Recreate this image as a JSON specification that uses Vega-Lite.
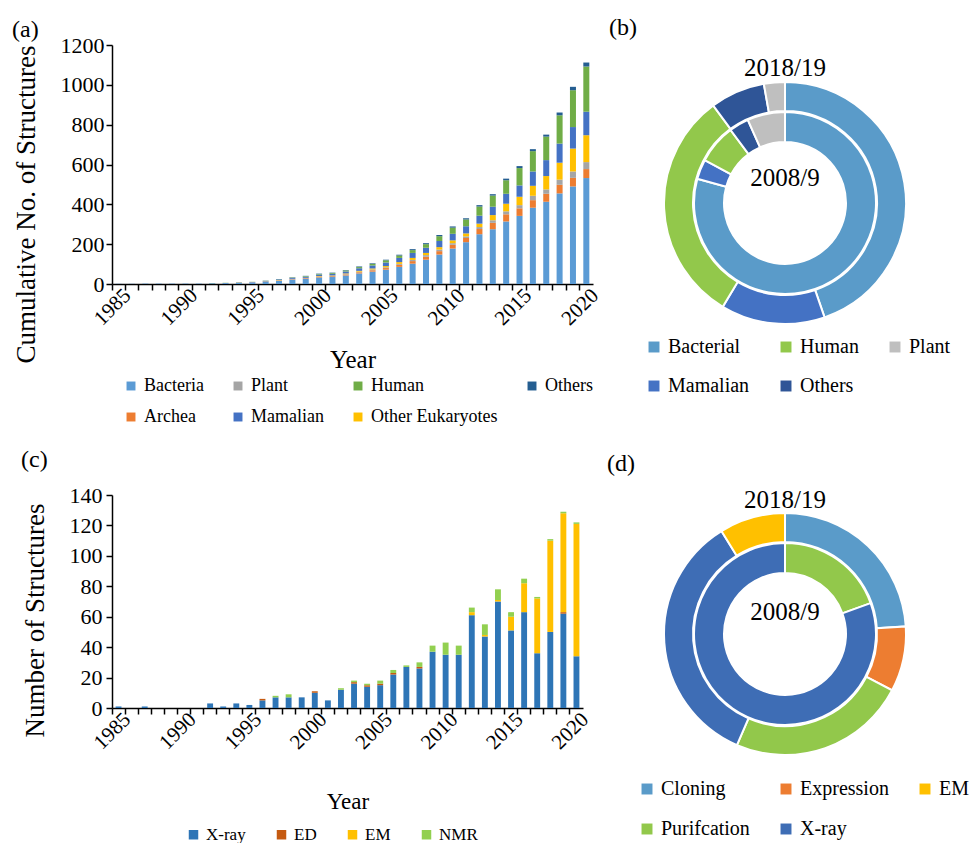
{
"$schema":"https://vega.github.io/schema/vega-lite/v6.json",
"background":"white",
"padding":{"left":12,"top":16,"right":0,"bottom":0},
"config":{"font":"Liberation Serif","view":{"stroke":null},
"axis":{"domainColor":"#000","tickColor":"#000","labelColor":"#000","titleColor":"#000","labelFont":"Liberation Serif","titleFont":"Liberation Serif","titleFontWeight":"normal","grid":false,"domainWidth":1.5,"tickWidth":1.5,"tickSize":6},
"legend":{"labelFont":"Liberation Serif","labelColor":"#000","symbolType":"square","symbolStrokeWidth":0,"symbolSize":100,"direction":"horizontal"},
"title":{"font":"Liberation Serif","fontWeight":"normal","color":"#000","fontSize":24,"anchor":"start","frame":"bounds"}},
"datasets":{
"cum":[
{"y":1985,"o":"Bacteria","i":1,"n":1},{"y":1986,"o":"Bacteria","i":1,"n":1},{"y":1987,"o":"Bacteria","i":1,"n":2},{"y":1988,"o":"Bacteria","i":1,"n":2},{"y":1989,"o":"Bacteria","i":1,"n":2},{"y":1990,"o":"Bacteria","i":1,"n":2},{"y":1991,"o":"Bacteria","i":1,"n":2},
{"y":1992,"o":"Bacteria","i":1,"n":3},{"y":1992,"o":"Mamalian","i":5,"n":1},{"y":1992,"o":"Human","i":6,"n":1},
{"y":1993,"o":"Bacteria","i":1,"n":4},{"y":1993,"o":"Mamalian","i":5,"n":1},{"y":1993,"o":"Human","i":6,"n":1},
{"y":1994,"o":"Bacteria","i":1,"n":6},{"y":1994,"o":"Archea","i":2,"n":1},{"y":1994,"o":"Mamalian","i":5,"n":1},{"y":1994,"o":"Human","i":6,"n":1},
{"y":1995,"o":"Bacteria","i":1,"n":7},{"y":1995,"o":"Archea","i":2,"n":1},{"y":1995,"o":"Mamalian","i":5,"n":2},{"y":1995,"o":"Human","i":6,"n":1},
{"y":1996,"o":"Bacteria","i":1,"n":11},{"y":1996,"o":"Archea","i":2,"n":1},{"y":1996,"o":"Other Eukaryotes","i":4,"n":1},{"y":1996,"o":"Mamalian","i":5,"n":2},{"y":1996,"o":"Human","i":6,"n":1},{"y":1996,"o":"Others","i":7,"n":1},
{"y":1997,"o":"Bacteria","i":1,"n":16},{"y":1997,"o":"Archea","i":2,"n":2},{"y":1997,"o":"Plant","i":3,"n":1},{"y":1997,"o":"Other Eukaryotes","i":4,"n":1},{"y":1997,"o":"Mamalian","i":5,"n":3},{"y":1997,"o":"Human","i":6,"n":1},{"y":1997,"o":"Others","i":7,"n":1},
{"y":1998,"o":"Bacteria","i":1,"n":22},{"y":1998,"o":"Archea","i":2,"n":2},{"y":1998,"o":"Plant","i":3,"n":1},{"y":1998,"o":"Other Eukaryotes","i":4,"n":1},{"y":1998,"o":"Mamalian","i":5,"n":5},{"y":1998,"o":"Human","i":6,"n":2},{"y":1998,"o":"Others","i":7,"n":1},
{"y":1999,"o":"Bacteria","i":1,"n":26},{"y":1999,"o":"Archea","i":2,"n":3},{"y":1999,"o":"Plant","i":3,"n":1},{"y":1999,"o":"Other Eukaryotes","i":4,"n":1},{"y":1999,"o":"Mamalian","i":5,"n":6},{"y":1999,"o":"Human","i":6,"n":3},{"y":1999,"o":"Others","i":7,"n":1},
{"y":2000,"o":"Bacteria","i":1,"n":33},{"y":2000,"o":"Archea","i":2,"n":4},{"y":2000,"o":"Plant","i":3,"n":1},{"y":2000,"o":"Other Eukaryotes","i":4,"n":2},{"y":2000,"o":"Mamalian","i":5,"n":7},{"y":2000,"o":"Human","i":6,"n":3},{"y":2000,"o":"Others","i":7,"n":2},
{"y":2001,"o":"Bacteria","i":1,"n":35},{"y":2001,"o":"Archea","i":2,"n":4},{"y":2001,"o":"Plant","i":3,"n":2},{"y":2001,"o":"Other Eukaryotes","i":4,"n":2},{"y":2001,"o":"Mamalian","i":5,"n":8},{"y":2001,"o":"Human","i":6,"n":4},{"y":2001,"o":"Others","i":7,"n":2},
{"y":2002,"o":"Bacteria","i":1,"n":43},{"y":2002,"o":"Archea","i":2,"n":5},{"y":2002,"o":"Plant","i":3,"n":2},{"y":2002,"o":"Other Eukaryotes","i":4,"n":3},{"y":2002,"o":"Mamalian","i":5,"n":10},{"y":2002,"o":"Human","i":6,"n":5},{"y":2002,"o":"Others","i":7,"n":2},
{"y":2003,"o":"Bacteria","i":1,"n":53},{"y":2003,"o":"Archea","i":2,"n":6},{"y":2003,"o":"Plant","i":3,"n":3},{"y":2003,"o":"Other Eukaryotes","i":4,"n":4},{"y":2003,"o":"Mamalian","i":5,"n":13},{"y":2003,"o":"Human","i":6,"n":6},{"y":2003,"o":"Others","i":7,"n":3},
{"y":2004,"o":"Bacteria","i":1,"n":62},{"y":2004,"o":"Archea","i":2,"n":7},{"y":2004,"o":"Plant","i":3,"n":4},{"y":2004,"o":"Other Eukaryotes","i":4,"n":5},{"y":2004,"o":"Mamalian","i":5,"n":15},{"y":2004,"o":"Human","i":6,"n":8},{"y":2004,"o":"Others","i":7,"n":3},
{"y":2005,"o":"Bacteria","i":1,"n":72},{"y":2005,"o":"Archea","i":2,"n":8},{"y":2005,"o":"Plant","i":3,"n":4},{"y":2005,"o":"Other Eukaryotes","i":4,"n":6},{"y":2005,"o":"Mamalian","i":5,"n":18},{"y":2005,"o":"Human","i":6,"n":11},{"y":2005,"o":"Others","i":7,"n":3},
{"y":2006,"o":"Bacteria","i":1,"n":86},{"y":2006,"o":"Archea","i":2,"n":10},{"y":2006,"o":"Plant","i":3,"n":5},{"y":2006,"o":"Other Eukaryotes","i":4,"n":9},{"y":2006,"o":"Mamalian","i":5,"n":21},{"y":2006,"o":"Human","i":6,"n":12},{"y":2006,"o":"Others","i":7,"n":4},
{"y":2007,"o":"Bacteria","i":1,"n":102},{"y":2007,"o":"Archea","i":2,"n":13},{"y":2007,"o":"Plant","i":3,"n":6},{"y":2007,"o":"Other Eukaryotes","i":4,"n":10},{"y":2007,"o":"Mamalian","i":5,"n":25},{"y":2007,"o":"Human","i":6,"n":14},{"y":2007,"o":"Others","i":7,"n":5},
{"y":2008,"o":"Bacteria","i":1,"n":122},{"y":2008,"o":"Archea","i":2,"n":15},{"y":2008,"o":"Plant","i":3,"n":8},{"y":2008,"o":"Other Eukaryotes","i":4,"n":11},{"y":2008,"o":"Mamalian","i":5,"n":26},{"y":2008,"o":"Human","i":6,"n":18},{"y":2008,"o":"Others","i":7,"n":5},
{"y":2009,"o":"Bacteria","i":1,"n":148},{"y":2009,"o":"Archea","i":2,"n":17},{"y":2009,"o":"Plant","i":3,"n":8},{"y":2009,"o":"Other Eukaryotes","i":4,"n":12},{"y":2009,"o":"Mamalian","i":5,"n":31},{"y":2009,"o":"Human","i":6,"n":24},{"y":2009,"o":"Others","i":7,"n":6},
{"y":2010,"o":"Bacteria","i":1,"n":178},{"y":2010,"o":"Archea","i":2,"n":19},{"y":2010,"o":"Plant","i":3,"n":8},{"y":2010,"o":"Other Eukaryotes","i":4,"n":14},{"y":2010,"o":"Mamalian","i":5,"n":33},{"y":2010,"o":"Human","i":6,"n":31},{"y":2010,"o":"Others","i":7,"n":6},
{"y":2011,"o":"Bacteria","i":1,"n":210},{"y":2011,"o":"Archea","i":2,"n":21},{"y":2011,"o":"Plant","i":3,"n":8},{"y":2011,"o":"Other Eukaryotes","i":4,"n":15},{"y":2011,"o":"Mamalian","i":5,"n":36},{"y":2011,"o":"Human","i":6,"n":34},{"y":2011,"o":"Others","i":7,"n":6},
{"y":2012,"o":"Bacteria","i":1,"n":250},{"y":2012,"o":"Archea","i":2,"n":26},{"y":2012,"o":"Plant","i":3,"n":10},{"y":2012,"o":"Other Eukaryotes","i":4,"n":17},{"y":2012,"o":"Mamalian","i":5,"n":40},{"y":2012,"o":"Human","i":6,"n":46},{"y":2012,"o":"Others","i":7,"n":7},
{"y":2013,"o":"Bacteria","i":1,"n":275},{"y":2013,"o":"Archea","i":2,"n":32},{"y":2013,"o":"Plant","i":3,"n":13},{"y":2013,"o":"Other Eukaryotes","i":4,"n":26},{"y":2013,"o":"Mamalian","i":5,"n":42},{"y":2013,"o":"Human","i":6,"n":56},{"y":2013,"o":"Others","i":7,"n":7},
{"y":2014,"o":"Bacteria","i":1,"n":314},{"y":2014,"o":"Archea","i":2,"n":36},{"y":2014,"o":"Plant","i":3,"n":15},{"y":2014,"o":"Other Eukaryotes","i":4,"n":38},{"y":2014,"o":"Mamalian","i":5,"n":50},{"y":2014,"o":"Human","i":6,"n":68},{"y":2014,"o":"Others","i":7,"n":8},
{"y":2015,"o":"Bacteria","i":1,"n":342},{"y":2015,"o":"Archea","i":2,"n":38},{"y":2015,"o":"Plant","i":3,"n":16},{"y":2015,"o":"Other Eukaryotes","i":4,"n":42},{"y":2015,"o":"Mamalian","i":5,"n":57},{"y":2015,"o":"Human","i":6,"n":87},{"y":2015,"o":"Others","i":7,"n":10},
{"y":2016,"o":"Bacteria","i":1,"n":383},{"y":2016,"o":"Archea","i":2,"n":38},{"y":2016,"o":"Plant","i":3,"n":22},{"y":2016,"o":"Other Eukaryotes","i":4,"n":50},{"y":2016,"o":"Mamalian","i":5,"n":72},{"y":2016,"o":"Human","i":6,"n":102},{"y":2016,"o":"Others","i":7,"n":10},
{"y":2017,"o":"Bacteria","i":1,"n":413},{"y":2017,"o":"Archea","i":2,"n":40},{"y":2017,"o":"Plant","i":3,"n":22},{"y":2017,"o":"Other Eukaryotes","i":4,"n":67},{"y":2017,"o":"Mamalian","i":5,"n":80},{"y":2017,"o":"Human","i":6,"n":118},{"y":2017,"o":"Others","i":7,"n":10},
{"y":2018,"o":"Bacteria","i":1,"n":455},{"y":2018,"o":"Archea","i":2,"n":43},{"y":2018,"o":"Plant","i":3,"n":26},{"y":2018,"o":"Other Eukaryotes","i":4,"n":85},{"y":2018,"o":"Mamalian","i":5,"n":96},{"y":2018,"o":"Human","i":6,"n":142},{"y":2018,"o":"Others","i":7,"n":14},
{"y":2019,"o":"Bacteria","i":1,"n":490},{"y":2019,"o":"Archea","i":2,"n":43},{"y":2019,"o":"Plant","i":3,"n":32},{"y":2019,"o":"Other Eukaryotes","i":4,"n":115},{"y":2019,"o":"Mamalian","i":5,"n":108},{"y":2019,"o":"Human","i":6,"n":185},{"y":2019,"o":"Others","i":7,"n":17},
{"y":2020,"o":"Bacteria","i":1,"n":532},{"y":2020,"o":"Archea","i":2,"n":45},{"y":2020,"o":"Plant","i":3,"n":35},{"y":2020,"o":"Other Eukaryotes","i":4,"n":135},{"y":2020,"o":"Mamalian","i":5,"n":118},{"y":2020,"o":"Human","i":6,"n":227},{"y":2020,"o":"Others","i":7,"n":20}
],
"yearly":[
{"y":1985,"m":"X-ray","i":1,"n":1},{"y":1987,"m":"X-ray","i":1,"n":1},{"y":1992,"m":"X-ray","i":1,"n":3},{"y":1993,"m":"X-ray","i":1,"n":1},{"y":1994,"m":"X-ray","i":1,"n":3},{"y":1995,"m":"X-ray","i":1,"n":2},
{"y":1996,"m":"X-ray","i":1,"n":5},{"y":1996,"m":"ED","i":2,"n":1},
{"y":1997,"m":"X-ray","i":1,"n":7},{"y":1997,"m":"NMR","i":4,"n":1},
{"y":1998,"m":"X-ray","i":1,"n":7},{"y":1998,"m":"NMR","i":4,"n":2},
{"y":1999,"m":"X-ray","i":1,"n":7},
{"y":2000,"m":"X-ray","i":1,"n":10},{"y":2000,"m":"ED","i":2,"n":1},
{"y":2001,"m":"X-ray","i":1,"n":5},
{"y":2002,"m":"X-ray","i":1,"n":12},{"y":2002,"m":"NMR","i":4,"n":1},
{"y":2003,"m":"X-ray","i":1,"n":16},{"y":2003,"m":"ED","i":2,"n":1},{"y":2003,"m":"NMR","i":4,"n":1},
{"y":2004,"m":"X-ray","i":1,"n":14},{"y":2004,"m":"ED","i":2,"n":1},{"y":2004,"m":"NMR","i":4,"n":1},
{"y":2005,"m":"X-ray","i":1,"n":15},{"y":2005,"m":"ED","i":2,"n":1},{"y":2005,"m":"NMR","i":4,"n":2},
{"y":2006,"m":"X-ray","i":1,"n":22},{"y":2006,"m":"ED","i":2,"n":1},{"y":2006,"m":"NMR","i":4,"n":2},
{"y":2007,"m":"X-ray","i":1,"n":27},{"y":2007,"m":"NMR","i":4,"n":1},
{"y":2008,"m":"X-ray","i":1,"n":26},{"y":2008,"m":"ED","i":2,"n":1},{"y":2008,"m":"NMR","i":4,"n":3},
{"y":2009,"m":"X-ray","i":1,"n":37},{"y":2009,"m":"NMR","i":4,"n":4},
{"y":2010,"m":"X-ray","i":1,"n":35},{"y":2010,"m":"NMR","i":4,"n":8},
{"y":2011,"m":"X-ray","i":1,"n":35},{"y":2011,"m":"NMR","i":4,"n":6},
{"y":2012,"m":"X-ray","i":1,"n":61},{"y":2012,"m":"EM","i":3,"n":2},{"y":2012,"m":"NMR","i":4,"n":3},
{"y":2013,"m":"X-ray","i":1,"n":47},{"y":2013,"m":"EM","i":3,"n":1},{"y":2013,"m":"NMR","i":4,"n":7},
{"y":2014,"m":"X-ray","i":1,"n":70},{"y":2014,"m":"EM","i":3,"n":1},{"y":2014,"m":"NMR","i":4,"n":7},
{"y":2015,"m":"X-ray","i":1,"n":51},{"y":2015,"m":"EM","i":3,"n":9},{"y":2015,"m":"NMR","i":4,"n":3},
{"y":2016,"m":"X-ray","i":1,"n":63},{"y":2016,"m":"EM","i":3,"n":19},{"y":2016,"m":"NMR","i":4,"n":3},
{"y":2017,"m":"X-ray","i":1,"n":36},{"y":2017,"m":"EM","i":3,"n":36},{"y":2017,"m":"NMR","i":4,"n":1},
{"y":2018,"m":"X-ray","i":1,"n":50},{"y":2018,"m":"EM","i":3,"n":60},{"y":2018,"m":"NMR","i":4,"n":1},
{"y":2019,"m":"X-ray","i":1,"n":62},{"y":2019,"m":"ED","i":2,"n":1},{"y":2019,"m":"EM","i":3,"n":65},{"y":2019,"m":"NMR","i":4,"n":1},
{"y":2020,"m":"X-ray","i":1,"n":34},{"y":2020,"m":"EM","i":3,"n":87},{"y":2020,"m":"NMR","i":4,"n":1}
]
},
"bounds":"flush",
"align":"each",
"columns":2,
"spacing":{"row":134,"column":72},
"resolve":{"scale":{"color":"independent","theta":"independent"},"legend":{"color":"independent"}},
"concat":[
{"title":{"text":"(a)","offset":-8},
"width":481,"height":239,
"data":{"name":"cum"},
"mark":{"type":"bar","width":{"band":0.45}},
"encoding":{
"x":{"field":"y","type":"ordinal","scale":{"paddingInner":0,"paddingOuter":0,"domain":[1985,1986,1987,1988,1989,1990,1991,1992,1993,1994,1995,1996,1997,1998,1999,2000,2001,2002,2003,2004,2005,2006,2007,2008,2009,2010,2011,2012,2013,2014,2015,2016,2017,2018,2019,2020]},
"axis":{"title":"Year","titleFontSize":25,"labelFontSize":21,"labelAngle":-45,"labelAlign":"right","labelBaseline":"middle","bandPosition":0,"labelOffset":9,"labelPadding":2,"labelExpr":"datum.value % 5 == 0 ? datum.label : ''","titlePadding":19}},
"y":{"field":"n","type":"quantitative","stack":"zero","scale":{"domain":[0,1200],"nice":false},
"axis":{"title":"Cumulative No. of Structures","titleFontSize":27,"labelFontSize":22,"format":"d","values":[0,200,400,600,800,1000,1200],"labelPadding":2,"titlePadding":20,"titleY":159}},
"color":{"field":"o","type":"nominal","scale":{"domain":["Bacteria","Plant","Human","Others","Archea","Mamalian","Other Eukaryotes"],"range":["#5B9BD5","#A5A5A5","#70AD47","#255E91","#ED7D31","#4472C4","#FFC000"]},
"legend":{"title":null,"orient":"none","legendX":10,"legendY":332,"columns":4,"gridAlign":"each","columnPadding":25,"rowPadding":13,"labelFontSize":18,"symbolSize":80}},
"order":{"field":"i","type":"quantitative"}}},
{"title":{"text":"(b)","offset":5,"dx":-35},
"width":240,"height":316,
"layer":[
{"data":{"values":[{"c":"Bacterial","i":1,"v":44.7},{"c":"Mamalian","i":2,"v":13.9},{"c":"Human","i":3,"v":31.3},{"c":"Others","i":4,"v":7.3},{"c":"Plant","i":5,"v":2.8}]},
"mark":{"type":"arc","innerRadius":92,"outerRadius":121,"stroke":"white","strokeWidth":2},
"encoding":{"theta":{"field":"v","type":"quantitative","stack":true},"order":{"field":"i","type":"quantitative"},
"color":{"field":"c","type":"nominal","scale":{"domain":["Bacterial","Human","Plant","Mamalian","Others"],"range":["#5A9BC9","#92C84B","#BFBFBF","#4472C4","#2F5597"]},
"legend":{"title":null,"orient":"none","legendX":-21,"legendY":292,"columns":3,"columnPadding":26,"rowPadding":19,"labelFontSize":20,"symbolSize":120}}}},
{"data":{"values":[{"c":"Bacterial","i":1,"v":79.3},{"c":"Mamalian","i":2,"v":3.5},{"c":"Human","i":3,"v":7.0},{"c":"Others","i":4,"v":3.5},{"c":"Plant","i":5,"v":6.7}]},
"mark":{"type":"arc","innerRadius":61,"outerRadius":91,"stroke":"white","strokeWidth":2},
"encoding":{"theta":{"field":"v","type":"quantitative","stack":true},"order":{"field":"i","type":"quantitative"},
"color":{"field":"c","type":"nominal"}}},
{"data":{"values":[{"t":"2018/19"}]},"mark":{"type":"text","dy":-135,"fontSize":25,"font":"Liberation Serif","color":"#000"},"encoding":{"text":{"field":"t","type":"nominal"}}},
{"data":{"values":[{"t":"2008/9"}]},"mark":{"type":"text","dy":-25,"fontSize":25,"font":"Liberation Serif","color":"#000"},"encoding":{"text":{"field":"t","type":"nominal"}}}
],
"resolve":{"scale":{"theta":"independent"}}},
{"title":{"text":"(c)","offset":12},
"width":471,"height":213,
"data":{"name":"yearly"},
"mark":{"type":"bar","width":{"band":0.45}},
"encoding":{
"x":{"field":"y","type":"ordinal","scale":{"paddingInner":0,"paddingOuter":0,"domain":[1985,1986,1987,1988,1989,1990,1991,1992,1993,1994,1995,1996,1997,1998,1999,2000,2001,2002,2003,2004,2005,2006,2007,2008,2009,2010,2011,2012,2013,2014,2015,2016,2017,2018,2019,2020]},
"axis":{"title":"Year","titleFontSize":23,"labelFontSize":21,"labelAngle":-45,"labelAlign":"right","labelBaseline":"middle","bandPosition":0,"labelOffset":9,"labelPadding":2,"labelExpr":"datum.value % 5 == 0 ? datum.label : ''","titlePadding":38}},
"y":{"field":"n","type":"quantitative","stack":"zero","scale":{"domain":[0,140],"nice":false},
"axis":{"title":"Number of Structures","titleFontSize":27,"labelFontSize":22,"values":[0,20,40,60,80,100,120,140],"labelPadding":4,"titlePadding":20,"titleY":125}},
"color":{"field":"m","type":"nominal","scale":{"domain":["X-ray","ED","EM","NMR"],"range":["#2E75B6","#C55A11","#FFC000","#92D050"]},
"legend":{"title":null,"orient":"none","legendX":73,"legendY":331,"columnPadding":27,"labelFontSize":17,"symbolSize":90}},
"order":{"field":"i","type":"quantitative"}}},
{"title":{"text":"(d)","offset":12,"dx":-30},
"width":240,"height":278,
"layer":[
{"data":{"values":[{"c":"Cloning","i":1,"v":24.0},{"c":"Expression","i":2,"v":8.7},{"c":"Purifcation","i":3,"v":23.8},{"c":"X-ray","i":4,"v":34.7},{"c":"EM","i":5,"v":8.8}]},
"mark":{"type":"arc","innerRadius":92,"outerRadius":121,"stroke":"white","strokeWidth":2},
"encoding":{"theta":{"field":"v","type":"quantitative","stack":true},"order":{"field":"i","type":"quantitative"},
"color":{"field":"c","type":"nominal","scale":{"domain":["Cloning","Expression","EM","Purifcation","X-ray"],"range":["#5A9BC9","#ED7D31","#FFC000","#92C84B","#3E6DB5"]},
"legend":{"title":null,"orient":"none","legendX":-28,"legendY":284,"columns":3,"columnPadding":26,"rowPadding":20,"labelFontSize":20,"symbolSize":120}}}},
{"data":{"values":[{"c":"Cloning","i":1,"v":0},{"c":"Expression","i":2,"v":0},{"c":"Purifcation","i":3,"v":19.5},{"c":"X-ray","i":4,"v":80.5},{"c":"EM","i":5,"v":0}]},
"mark":{"type":"arc","innerRadius":61,"outerRadius":91,"stroke":"white","strokeWidth":2},
"encoding":{"theta":{"field":"v","type":"quantitative","stack":true},"order":{"field":"i","type":"quantitative"},
"color":{"field":"c","type":"nominal"}}},
{"data":{"values":[{"t":"2018/19"}]},"mark":{"type":"text","dy":-134,"fontSize":25,"font":"Liberation Serif","color":"#000"},"encoding":{"text":{"field":"t","type":"nominal"}}},
{"data":{"values":[{"t":"2008/9"}]},"mark":{"type":"text","dy":-22,"fontSize":25,"font":"Liberation Serif","color":"#000"},"encoding":{"text":{"field":"t","type":"nominal"}}}
],
"resolve":{"scale":{"theta":"independent"}}}
]
}
